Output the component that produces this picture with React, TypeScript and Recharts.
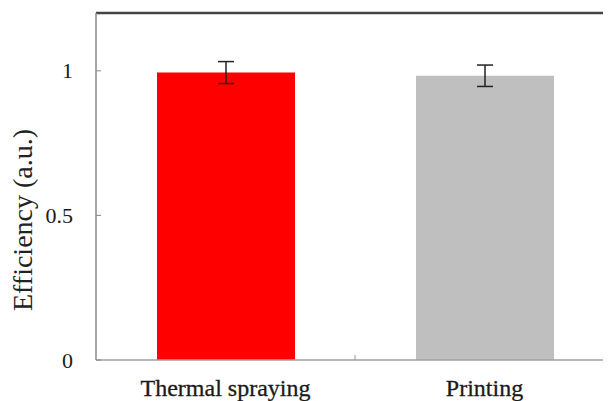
import React from 'react';
import { BarChart, Bar, XAxis, YAxis, ErrorBar, ReferenceLine, Cell } from 'recharts';

const categories = ['Thermal spraying', 'Printing'];
const efficiency = [0.994, 0.983];
const errors = [0.038, 0.037];
const barColors = ['#ff0000', '#bfbfbf'];
const yTicks = [0, 0.5, 1];

const FONT = '"Liberation Serif", "Times New Roman", serif';

const data = categories.map((name, i) => ({ name, value: efficiency[i], err: errors[i] }));

const XTick = (props: any) => {
  const { x, y, payload, index } = props;
  return (
    <g>
      {index === 0 && <line x1={x + 129.5} x2={x + 129.5} y1={y} y2={y - 5} stroke="#999" />}
      <text
        x={x}
        y={y + 36}
        textAnchor="middle"
        style={{ fontFamily: FONT, fontSize: 24 }}
        fill="#1a1a1a"
        stroke="#1a1a1a"
        strokeWidth={0.3}
      >
        {payload.value}
      </text>
    </g>
  );
};

const YTick = (props: any) => {
  const { x, y, payload } = props;
  return (
    <g>
      <line x1={x} x2={x + 5} y1={y} y2={y} stroke="#888" />
      <text
        x={x - 23}
        y={y}
        textAnchor="end"
        dominantBaseline="central"
        style={{ fontFamily: FONT, fontSize: 22 }}
        fill="#1a1a1a"
      >
        {payload.value}
      </text>
    </g>
  );
};

export default function App() {
  return (
    <div style={{ width: 603, height: 393, overflow: 'hidden' }}>
      <BarChart
        width={620}
        height={393}
        data={data}
        margin={{ top: 5, right: 14, bottom: 0, left: 0 }}
        barSize={138}
      >
        <XAxis
          dataKey="name"
          height={41}
          tickSize={0}
          tickMargin={0}
          tickLine={false}
          tick={<XTick />}
          axisLine={{ stroke: '#a0a0a0', strokeWidth: 1.5 }}
        />
        <YAxis
          width={88}
          domain={[0, 1.2]}
          ticks={yTicks}
          tickSize={0}
          tickMargin={0}
          tickLine={false}
          tick={<YTick />}
          axisLine={{ stroke: '#8a8a8a', strokeWidth: 1.5 }}
          label={{
            content: () => (
              <text
                x={14}
                y={212}
                transform="rotate(-90 14 212)"
                textAnchor="middle"
                dominantBaseline="central"
                style={{ fontFamily: FONT, fontSize: 28 }}
                fill="#222"
              >
                Efficiency (a.u.)
              </text>
            ),
          }}
        />
        <ReferenceLine y={1.2} stroke="#444" strokeWidth={2.5} />
        <Bar dataKey="value" isAnimationActive={false}>
          {data.map((d, i) => (
            <Cell key={d.name} fill={barColors[i]} />
          ))}
          <ErrorBar dataKey="err" direction="y" width={8} stroke="#222" strokeWidth={1.5} isAnimationActive={false} />
        </Bar>
      </BarChart>
    </div>
  );
}
